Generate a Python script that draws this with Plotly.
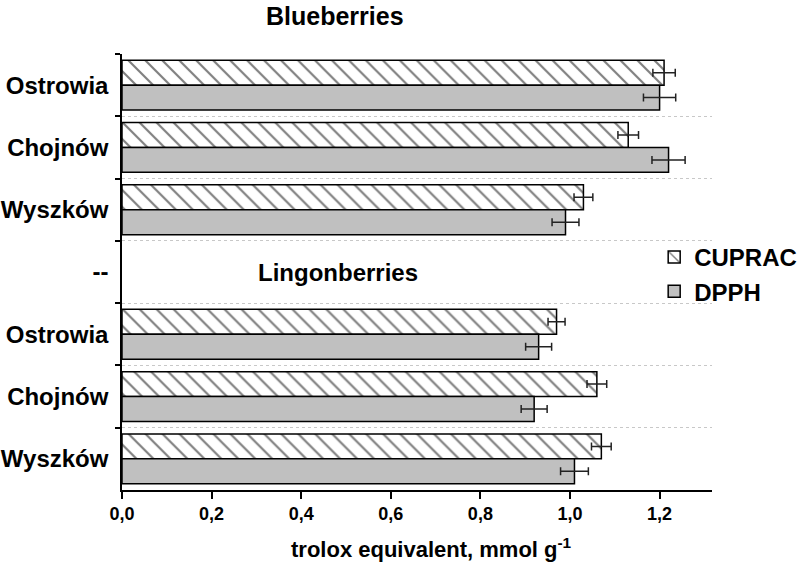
import plotly.graph_objects as go

ZW = "\u200b"  # zero-width space keeps duplicate labels distinct categories
categories = ["Ostrowia", "Chojnów", "Wyszków", "--",
              "Ostrowia" + ZW, "Chojnów" + ZW, "Wyszków" + ZW]

cuprac = [1.21, 1.13, 1.03, None, 0.97, 1.06, 1.07]
cuprac_err = [0.025, 0.023, 0.021, None, 0.019, 0.022, 0.022]
dpph = [1.20, 1.22, 0.99, None, 0.93, 0.92, 1.01]
dpph_err = [0.036, 0.037, 0.030, None, 0.029, 0.029, 0.031]

x_ticks = [0.0, 0.2, 0.4, 0.6, 0.8, 1.0, 1.2]
x_ticktext = ["0,0", "0,2", "0,4", "0,6", "0,8", "1,0", "1,2"]

FONT = "Liberation Sans, Arial, sans-serif"

fig = go.Figure()
fig.add_trace(go.Bar(
    name="CUPRAC", y=categories, x=cuprac, orientation="h",
    marker=dict(color="white", line=dict(color="black", width=1.5),
                pattern=dict(shape="\\", fgcolor="black", bgcolor="white",
                             size=12, solidity=0.18)),
    error_x=dict(type="data", array=cuprac_err, color="#222222",
                 thickness=1.5, width=4),
))
fig.add_trace(go.Bar(
    name="DPPH", y=categories, x=dpph, orientation="h",
    marker=dict(color="#c0c0c0", line=dict(color="black", width=1.5)),
    error_x=dict(type="data", array=dpph_err, color="#222222",
                 thickness=1.5, width=4),
))

fig.update_layout(
    width=799, height=563,
    margin=dict(l=122, r=87, t=54, b=73, autoexpand=False),
    paper_bgcolor="white", plot_bgcolor="white",
    barmode="group", bargap=0.2, bargroupgap=0,
    font=dict(family=FONT, color="black"),
    showlegend=True,
    legend=dict(x=0.902, y=0.585, xanchor="left", yanchor="top",
                font=dict(size=24, family=FONT, weight="bold"),
                bgcolor="rgba(0,0,0,0)", tracegroupgap=4),
    xaxis=dict(range=[0, 1.317], tickvals=x_ticks, ticktext=x_ticktext,
               showgrid=False, zeroline=False, automargin=False,
               showline=True, linecolor="black", linewidth=1.5,
               ticks="outside", ticklen=7, tickwidth=1.5, tickcolor="black",
               tickfont=dict(size=18, family=FONT, weight="bold")),
    yaxis=dict(type="category", categoryorder="array", categoryarray=categories,
               autorange="reversed", tickson="boundaries", automargin=False,
               showgrid=True, gridcolor="#c8c8c8", griddash="dot", gridwidth=1,
               showline=True, linecolor="black", linewidth=1.5,
               ticks="outside", ticklen=5, tickwidth=1.5, tickcolor="black",
               ticklabelstandoff=7,
               tickfont=dict(size=24, family=FONT, weight="bold")),
    yaxis2=dict(type="category", overlaying="y", matches="y", side="left",
                categoryorder="array", categoryarray=categories,
                tickson="boundaries", automargin=False,
                showgrid=False, showline=False, showticklabels=False,
                ticks="inside", ticklen=4, tickwidth=1.5, tickcolor="black"),
)

fig.add_annotation(text="Blueberries", xref="x", yref="paper", x=0.475, y=1.087,
                   showarrow=False, xanchor="center", yanchor="middle",
                   font=dict(size=25, family=FONT, weight="bold"))
fig.add_annotation(text="Lingonberries", xref="x", yref="y", x=0.483, y="--",
                   showarrow=False, xanchor="center", yanchor="middle",
                   font=dict(size=24, family=FONT, weight="bold"))
fig.add_annotation(text="trolox equivalent, mmol g<sup>-1</sup>", xref="paper",
                   yref="paper", x=0.524, y=-0.133, showarrow=False,
                   xanchor="center", yanchor="middle",
                   font=dict(size=22, family=FONT, weight="bold"))

fig.write_html("out.html", config={"displayModeBar": False},
               post_script="document.body.style.margin='0';")
